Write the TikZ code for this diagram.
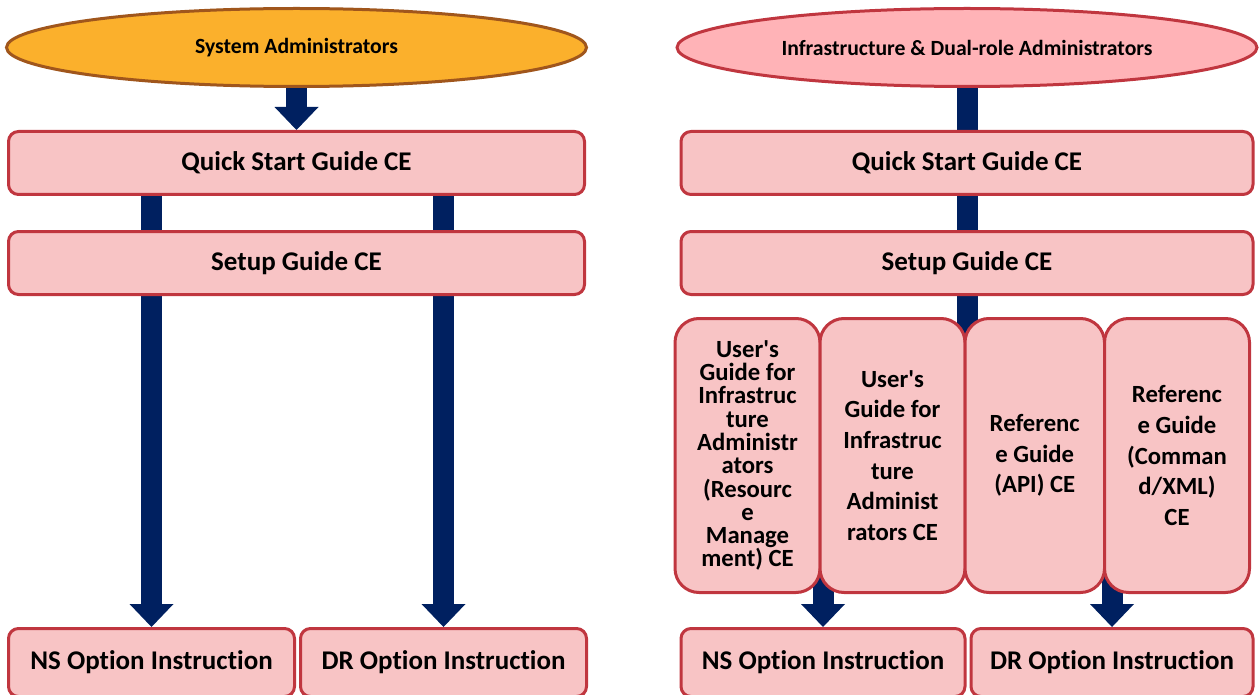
\documentclass[tikz,border=0pt]{standalone}
\usepackage{fontspec}
\setmainfont{Carlito}[Ligatures=NoCommon]
\usetikzlibrary{backgrounds,positioning,shapes,arrows.meta}

\definecolor{navy}{HTML}{002060}
\definecolor{boxfill}{HTML}{F8C4C5}
\definecolor{boxline}{HTML}{C0363F}
\definecolor{sysfill}{HTML}{FBB02C}
\definecolor{sysline}{HTML}{A0561C}
\definecolor{infrafill}{HTML}{FFB3B7}

\tikzstyle{role} = [ellipse, minimum width=580pt, minimum height=78pt, line width=3pt, font=\fontsize{21.7}{26}\selectfont\bfseries]
\tikzstyle{guide} = [rectangle, rounded corners=10pt, minimum height=63pt, text centered, draw=boxline, fill=boxfill, line width=3pt, font=\fontsize{27}{32}\selectfont\bfseries]
\tikzstyle{volume} = [guide, rounded corners=24pt, minimum height=274pt, align=center, font=\fontsize{24.7}{30.6}\selectfont\bfseries]
\tikzstyle{flow} = [draw=navy, line width=21pt, -{Triangle[length=23pt,width=44pt,line width=0pt]}]
\tikzstyle{bar} = [draw=navy, line width=21pt]

\newcommand{\apos}{\textquotesingle}

\begin{document}
\begin{tikzpicture}
    \useasboundingbox (0,0) rectangle (1260pt,-695pt);
    \node (sysadm) [role, fill=sysfill, draw=sysline] at (296.5pt,-47.5pt) {System Administrators};
    \node (infadm) [role, fill=infrafill, draw=boxline] at (967pt,-47.5pt) {Infrastructure \& Dual-role Administrators};

    % left column
    \node (quick1) [guide, minimum width=576pt, below=42pt of sysadm] {Quick Start Guide CE};
    \node (setup1) [guide, minimum width=576pt, below=34pt of quick1] {Setup Guide CE};
    \node (ns1) [guide, minimum width=286pt, minimum height=68pt, below=331pt of setup1.south west, anchor=north west] {NS Option Instruction};
    \node (dr1) [guide, minimum width=286pt, minimum height=68pt, right=3pt of ns1] {DR Option Instruction};

    % right column
    \node (quick2) [guide, minimum width=572pt, below=42pt of infadm] {Quick Start Guide CE};
    \node (setup2) [guide, minimum width=572pt, below=34pt of quick2] {Setup Guide CE};
    \node (users1) [volume, minimum width=145pt, below=21pt of setup2.south west, anchor=north west, xshift=-6pt, font=\fontsize{24.7}{23.3}\selectfont\bfseries] {User\apos s\\Guide for\\Infrastruc\\ture\\Administr\\ators\\(Resourc\\e\\Manage\\ment) CE};
    \node (users2) [volume, minimum width=145pt, right=-3pt of users1] {User\apos s\\Guide for\\Infrastruc\\ture\\Administ\\rators CE};
    \node (refapi) [volume, minimum width=139.5pt, right=-3pt of users2] {Referenc\\e Guide\\(API) CE};
    \node (refcmd) [volume, minimum width=145pt, right=-3pt of refapi] {Referenc\\e Guide\\(Comman\\d/XML)\\CE};
    \node (ns2) [guide, minimum width=284pt, minimum height=68pt, below=33pt of users1.south west, anchor=north west, xshift=6pt] {NS Option Instruction};
    \node (dr2) [guide, minimum width=282pt, minimum height=68pt, right=3pt of ns2] {DR Option Instruction};

    \begin{scope}[on background layer]
        \draw [flow] (sysadm.south) -- (quick1.north);
        \draw [flow] (ns1.north |- quick1.south) -- (ns1.north);
        \draw [flow] (dr1.north |- quick1.south) -- (dr1.north);
        \draw [bar] (infadm.south) -- ([yshift=-20pt]infadm.south |- users2.north);
        \draw [flow] (ns2.north |- users1.center) -- (ns2.north);
        \draw [flow] (dr2.north |- users1.center) -- (dr2.north);
    \end{scope}
\end{tikzpicture}
\end{document}
